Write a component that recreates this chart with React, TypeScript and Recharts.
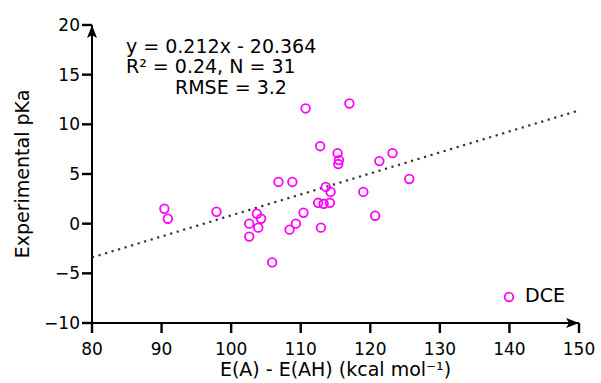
import { Scatter, ScatterChart, XAxis, YAxis } from "recharts";

const energyGap = [
  90.4, 90.9, 97.9, 102.6, 102.6, 103.7, 104.3, 103.9, 105.9, 106.8, 108.8,
  108.4, 109.3, 110.7, 117.0, 112.8, 115.3, 115.5, 115.4, 123.2, 121.3, 125.6,
  119.0, 120.7, 113.6, 114.3, 112.5, 113.3, 114.2, 110.4, 112.9,
];
const pKa = [
  1.5, 0.5, 1.2, 0.0, -1.3, 1.0, 0.5, -0.4, -3.9, 4.2, 4.2, -0.6, 0.0, 11.6,
  12.1, 7.8, 7.1, 6.4, 6.0, 7.1, 6.3, 4.5, 3.2, 0.8, 3.7, 3.2, 2.1, 2.0, 2.1,
  1.1, -0.4,
];
const trendX = [80, 150];
const trendY = [-3.4, 11.4];
const xTicks = [80, 90, 100, 110, 120, 130, 140, 150];
const yTicks = [-10, -5, 0, 5, 10, 15, 20];

const points = energyGap.map((x, i) => ({ x, y: pKa[i] }));
const trend = trendX.map((x, i) => ({ x, y: trendY[i] }));

const font = "DejaVu Sans, sans-serif";
const magenta = "#ff00ff";

const ring = (props: any) => (
  <circle
    cx={props.cx}
    cy={props.cy}
    r={4.3}
    fill="none"
    stroke={magenta}
    strokeWidth={1.8}
  />
);

const minus = (v: number) => (v < 0 ? `\u2212${Math.abs(v)}` : `${v}`);

// tick mark + label drawn together
const xTick = (p: any) => (
  <g>
    <rect x={Number(p.x) - 1.2} y={Number(p.y) - 12} width={2.4} height={10} fill="#000" />
    <text x={p.x} y={Number(p.y) + 20} textAnchor="middle" fontSize={17} fill="#000">
      {p.payload.value}
    </text>
  </g>
);

const yTick = (p: any) => (
  <g>
    <rect x={Number(p.x) + 1} y={Number(p.y) - 1.2} width={10} height={2.4} fill="#000" />
    <text x={Number(p.x) - 1} y={Number(p.y) + 6} textAnchor="end" fontSize={17} fill="#000">
      {minus(p.payload.value)}
    </text>
  </g>
);

export default function App() {
  return (
    <div style={{ position: "absolute", left: 0, top: 0, fontFamily: font }}>
      <svg width={0} height={0} style={{ position: "absolute" }}>
        <defs>
          <marker
            id="arrow"
            markerUnits="userSpaceOnUse"
            markerWidth={14}
            markerHeight={10}
            refX={13}
            refY={5}
            orient="auto-start-reverse"
          >
            <path d="M0,0 L13,5 L0,10 L3,5 Z" fill="#000" />
          </marker>
        </defs>
      </svg>
      <ScatterChart
        width={601}
        height={383}
        margin={{ top: 25, right: 22, bottom: 0, left: 0 }}
        style={{ fontFamily: font }}
      >
        <XAxis
          type="number"
          dataKey="x"
          domain={[80, 150]}
          ticks={xTicks}
          height={60}
          tickSize={8}
          tickMargin={4}
          tickLine={false}
          tick={xTick}
          axisLine={{ stroke: "#000", strokeWidth: 2, markerEnd: "url(#arrow)" }}
          label={{
            value: "E(A) - E(AH) (kcal mol\u207B\u00B9)",
            position: "insideBottom",
            offset: 7,
            fill: "#000",
            fontSize: 19,
          }}
        />
        <YAxis
          type="number"
          dataKey="y"
          domain={[-10, 20]}
          ticks={yTicks}
          width={92}
          tickSize={8}
          tickMargin={3}
          tickLine={false}
          tick={yTick}
          axisLine={{ stroke: "#000", strokeWidth: 2, markerStart: "url(#arrow)" }}
          label={{
            content: (p: any) => (
              <text
                x={p.viewBox.x + 22}
                y={p.viewBox.y + p.viewBox.height / 2}
                transform={`rotate(-90, ${p.viewBox.x + 22}, ${p.viewBox.y + p.viewBox.height / 2})`}
                textAnchor="middle"
                dominantBaseline="central"
                fontSize={19}
                fill="#000"
              >
                Experimental pKa
              </text>
            ),
          }}
        />
        <Scatter
          name="trend"
          data={trend}
          line={{ stroke: "#333", strokeWidth: 2.2, strokeDasharray: "2.2 4.6" }}
          shape={() => <g />}
          isAnimationActive={false}
        />
        <Scatter
          name="DCE"
          data={points}
          shape={ring}
          isAnimationActive={false}
        />
        <g fontSize={19} fill="#000">
          <text x={126} y={53}>y = 0.212x - 20.364</text>
          <text x={126} y={73}>R² = 0.24, N = 31</text>
          <text x={175} y={94}>RMSE = 3.2</text>
          <circle cx={509} cy={297} r={4.3} fill="none" stroke={magenta} strokeWidth={1.8} />
          <text x={525} y={302}>DCE</text>
        </g>
      </ScatterChart>
    </div>
  );
}
